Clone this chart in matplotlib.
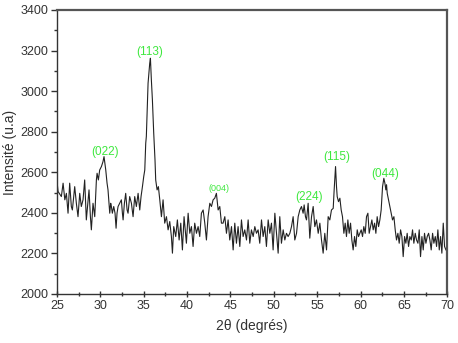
import matplotlib
matplotlib.use("Agg")
import matplotlib.pyplot as plt
from matplotlib.ticker import MultipleLocator

two_theta = [
    25.0, 25.12, 25.5, 25.7, 25.9, 26.08, 26.27, 26.46, 26.65, 26.77, 27.04, 27.23, 27.42, 27.62, 27.8, 28.0,
    28.19, 28.38, 28.58, 28.69, 28.85, 28.96, 29.15, 29.35, 29.54, 29.62, 29.77, 29.92, 30.12, 30.3, 30.42,
    30.54, 30.62, 30.77, 30.88, 31.0, 31.08, 31.19, 31.27, 31.38, 31.54, 31.69, 31.81, 31.92, 32.04, 32.23,
    32.42, 32.54, 32.62, 32.77, 32.92, 33.08, 33.19, 33.38, 33.58, 33.77, 33.96, 34.15, 34.35, 34.54, 34.69,
    34.85, 35.0, 35.12, 35.23, 35.3, 35.5, 35.69, 35.77, 35.88, 36.0, 36.15, 36.3,
    36.38, 36.54, 36.69, 36.85, 37.04, 37.23, 37.42, 37.62, 37.81, 38.0, 38.19, 38.31, 38.46, 38.69, 38.88,
    39.08, 39.27, 39.46, 39.65, 39.92, 40.12, 40.31, 40.5, 40.69, 40.88, 41.08, 41.27, 41.46, 41.65, 41.85,
    42.04, 42.23, 42.42, 42.62, 42.81, 43.0, 43.19, 43.38, 43.58, 43.77, 43.96, 44.15, 44.35, 44.54, 44.73,
    44.92, 45.12, 45.31, 45.5, 45.69, 45.88, 46.08, 46.27, 46.46, 46.65, 46.85, 47.04, 47.23, 47.42, 47.62,
    47.81, 48.0, 48.19,
    48.38, 48.58, 48.77, 48.96, 49.15, 49.35, 49.54, 49.73, 49.92, 50.12, 50.31, 50.5, 50.69, 50.88, 51.08,
    51.27, 51.46, 51.65, 51.85, 52.04, 52.23, 52.42, 52.62, 52.81, 53.0, 53.19, 53.38, 53.5, 53.65, 53.77,
    53.96, 54.15, 54.35, 54.54, 54.73, 54.92, 55.12, 55.31, 55.5, 55.69, 55.88, 56.08, 56.27, 56.46, 56.65,
    56.85, 56.96, 57.12, 57.23, 57.31, 57.46, 57.62, 57.77, 57.92, 58.08, 58.23, 58.38, 58.54, 58.69, 58.85,
    59.0, 59.15, 59.31, 59.46, 59.62, 59.77, 59.92, 60.08, 60.23, 60.38, 60.54, 60.69, 60.85, 61.0, 61.15,
    61.31, 61.46, 61.62, 61.77, 61.92, 62.08, 62.23, 62.38, 62.54, 62.69, 62.81, 62.92, 63.0, 63.08, 63.23,
    63.38, 63.54, 63.69, 63.85, 64.0, 64.15, 64.31, 64.46, 64.62, 64.77, 64.92, 65.08, 65.23, 65.38, 65.54,
    65.69, 65.85, 66.0, 66.15, 66.31, 66.46, 66.62, 66.77, 66.92, 67.08, 67.23, 67.38, 67.54, 67.69, 67.85,
    68.0, 68.15, 68.31, 68.46, 68.62, 68.77, 68.92, 69.08, 69.23, 69.38, 69.54, 69.69, 69.85,
]

intensity = [
    2554, 2505, 2480, 2546, 2464, 2496, 2398, 2546, 2431, 2414, 2529, 2447, 2381, 2496, 2431, 2464,
    2562, 2365, 2464, 2513, 2381, 2316, 2447, 2381, 2562, 2595, 2562, 2611, 2628, 2652, 2677,
    2636, 2611, 2546, 2513, 2447, 2398, 2447, 2431, 2398, 2431, 2398, 2324, 2398, 2431, 2447,
    2464, 2398, 2365, 2447, 2496, 2414, 2398, 2480, 2447, 2381, 2480, 2431, 2496, 2414, 2480,
    2529, 2579, 2611, 2743, 2776, 3039, 3137, 3162, 3055, 2956, 2794, 2660,
    2562, 2513, 2529, 2464, 2381, 2464, 2349, 2381, 2316, 2357, 2283, 2201, 2332, 2283, 2365,
    2266, 2349, 2217, 2381, 2250, 2398, 2299, 2332, 2234, 2349, 2299, 2332, 2283, 2398, 2414,
    2349, 2266, 2381, 2447, 2431, 2464, 2472, 2496, 2414, 2431, 2349, 2349, 2381, 2299, 2365,
    2266, 2332, 2217, 2349, 2250, 2332, 2234, 2365, 2283, 2316, 2266, 2365, 2250, 2316, 2283,
    2332, 2299, 2316,
    2250, 2365, 2283, 2332, 2234, 2365, 2299, 2349, 2217, 2398, 2299, 2201, 2381, 2250, 2316,
    2266, 2299, 2283, 2299, 2332, 2381, 2266, 2299, 2381, 2414, 2431, 2398, 2439, 2381, 2365,
    2447, 2275, 2381, 2431, 2332, 2365, 2299, 2349, 2266, 2201, 2299, 2217, 2381, 2365, 2414,
    2422, 2513, 2628, 2529, 2480, 2455, 2472, 2414, 2381, 2299, 2349, 2283, 2365, 2299, 2349,
    2266, 2217, 2283, 2234, 2316, 2283, 2299, 2316, 2283, 2332, 2299, 2381, 2398, 2299, 2332,
    2365, 2316, 2349, 2299, 2381, 2332, 2365, 2414, 2529, 2570, 2546, 2513, 2538, 2496, 2464,
    2431, 2398, 2365, 2381, 2316, 2266, 2299, 2250, 2316, 2283, 2184, 2283, 2250, 2299, 2234,
    2283, 2266, 2316, 2250, 2299, 2266, 2250, 2316, 2184, 2283, 2217, 2299, 2250, 2283, 2299,
    2266, 2217, 2299, 2250, 2283, 2234, 2316, 2217, 2283, 2201, 2349, 2234, 2217,
]

peak_labels = ["(022)", "(113)", "(004)", "(224)", "(115)", "(044)"]
peak_x = [30.5, 35.7, 43.7, 54.05, 57.3, 62.85]
peak_y = [2668, 3165, 2498, 2449, 2646, 2562]
peak_sizes = [8.5, 8.5, 6.5, 8.5, 8.5, 8.5]

plt.rcParams['font.family'] = ['Liberation Sans', 'DejaVu Sans']

fig = plt.figure(figsize=(4.58, 3.43), dpi=100)
ax = fig.add_axes([0.1245, 0.143, 0.852, 0.828])
ax.plot(two_theta, intensity, color='#222222', lw=0.8)

for lab, x, y, s in zip(peak_labels, peak_x, peak_y, peak_sizes):
    ax.text(x, y, lab, color='#3ee83e', fontsize=s, ha='center', va='bottom')

ax.set_xlim(25, 70)
ax.set_ylim(2000, 3400)
ax.xaxis.set_major_locator(MultipleLocator(5))
ax.xaxis.set_minor_locator(MultipleLocator(2.5))
ax.yaxis.set_major_locator(MultipleLocator(200))
ax.yaxis.set_minor_locator(MultipleLocator(100))
ax.tick_params(axis='both', which='major', labelsize=9, length=4, width=1, pad=2.5,
               color='#333333', labelcolor='#333333')
ax.tick_params(axis='both', which='minor', length=2.5, width=1, color='#333333')
ax.tick_params(axis='x', which='both', direction='inout')
ax.tick_params(axis='y', which='both', direction='out')
for side in ['left', 'bottom']:
    ax.spines[side].set_linewidth(1.0)
    ax.spines[side].set_color('#333333')
for side in ['top', 'right']:
    ax.spines[side].set_linewidth(1.6)
    ax.spines[side].set_color('#555555')

ax.set_xlabel('2θ (degrés)', fontsize=10, color='#333333', labelpad=5)
ax.set_ylabel('Intensité (u.a)', fontsize=10, color='#333333', labelpad=2)

fig.savefig('out.png', dpi=100)
